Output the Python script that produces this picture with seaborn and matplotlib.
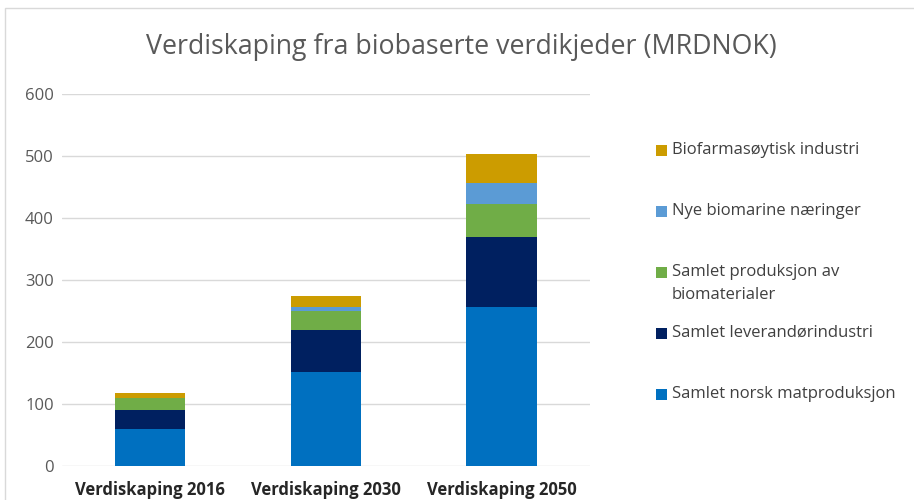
import pandas as pd
import matplotlib.pyplot as plt
import seaborn as sns
from matplotlib.patches import Rectangle

# --------------------------
# Data (MRDNOK)
# --------------------------
years = ["Verdiskaping 2016", "Verdiskaping 2030", "Verdiskaping 2050"]
mat = [59, 151, 257]
leverandor = [31, 69, 112]
biomaterialer = [19, 30, 54]
biomarine = [1, 6, 34]
biofarma = [7, 18, 47]

series = [
    ("Samlet norsk matproduksjon", mat, "#0070C0"),
    ("Samlet leverandørindustri", leverandor, "#002060"),
    ("Samlet produksjon av\nbiomaterialer", biomaterialer, "#70AD47"),
    ("Nye biomarine næringer", biomarine, "#5B9BD5"),
    ("Biofarmasøytisk industri", biofarma, "#CC9C00"),
]

df = pd.DataFrame({"year": years})
running = [0, 0, 0]
cum_cols = []
for name, vals, color in series:
    running = [a + b for a, b in zip(running, vals)]
    df[name] = running
    cum_cols.append((name, color))

sns.set_style("white")
plt.rcParams["font.family"] = ["Open Sans", "DejaVu Sans"]

fig = plt.figure(figsize=(9.14, 5.0), dpi=100)
ax = fig.add_axes([0.068, 0.068, 0.577, 0.744])

# stacked bars: draw cumulative totals from the top layer down
for name, color in reversed(cum_cols):
    sns.barplot(data=df, x="year", y=name, color=color, width=0.4,
                saturation=1, linewidth=0, ax=ax, zorder=3)

ax.set_ylim(0, 600)
ax.set_yticks(range(0, 601, 100))
ax.grid(axis="y", color="#D9D9D9", linewidth=1, zorder=0)
ax.set_axisbelow(True)
for s in ax.spines.values():
    s.set_visible(False)
ax.set_xlabel("")
ax.set_ylabel("")
ax.tick_params(axis="y", length=0, pad=6, labelsize=12, labelcolor="#595959")
ax.tick_params(axis="x", length=0, pad=11, labelsize=12, labelcolor="#262626")
for lbl in ax.get_xticklabels():
    lbl.set_fontweight("bold")

fig.text(0.505, 0.906, "Verdiskaping fra biobaserte verdikjeder (MRDNOK)",
         ha="center", va="center", fontsize=19.3, color="#595959")

# legend: evenly spaced slots, top entry first
slot_top = 1 - 150 / 500
slot_step = 61 / 500
for i, (name, _, color) in enumerate(reversed(series)):
    y = slot_top - i * slot_step
    fig.patches.append(Rectangle((656 / 914, y - 5.5 / 500), 11 / 914, 11 / 500,
                                 transform=fig.transFigure, facecolor=color,
                                 edgecolor="none"))
    fig.text(672 / 914, y + 8 / 500, name, ha="left", va="top", fontsize=12,
             color="#404040", linespacing=1.55)

# light outer border
fig.patches.append(Rectangle((0.005, -0.01), 1.0, 0.995, transform=fig.transFigure,
                             fill=False, edgecolor="#D9D9D9", linewidth=1))

plt.savefig("out.png")
